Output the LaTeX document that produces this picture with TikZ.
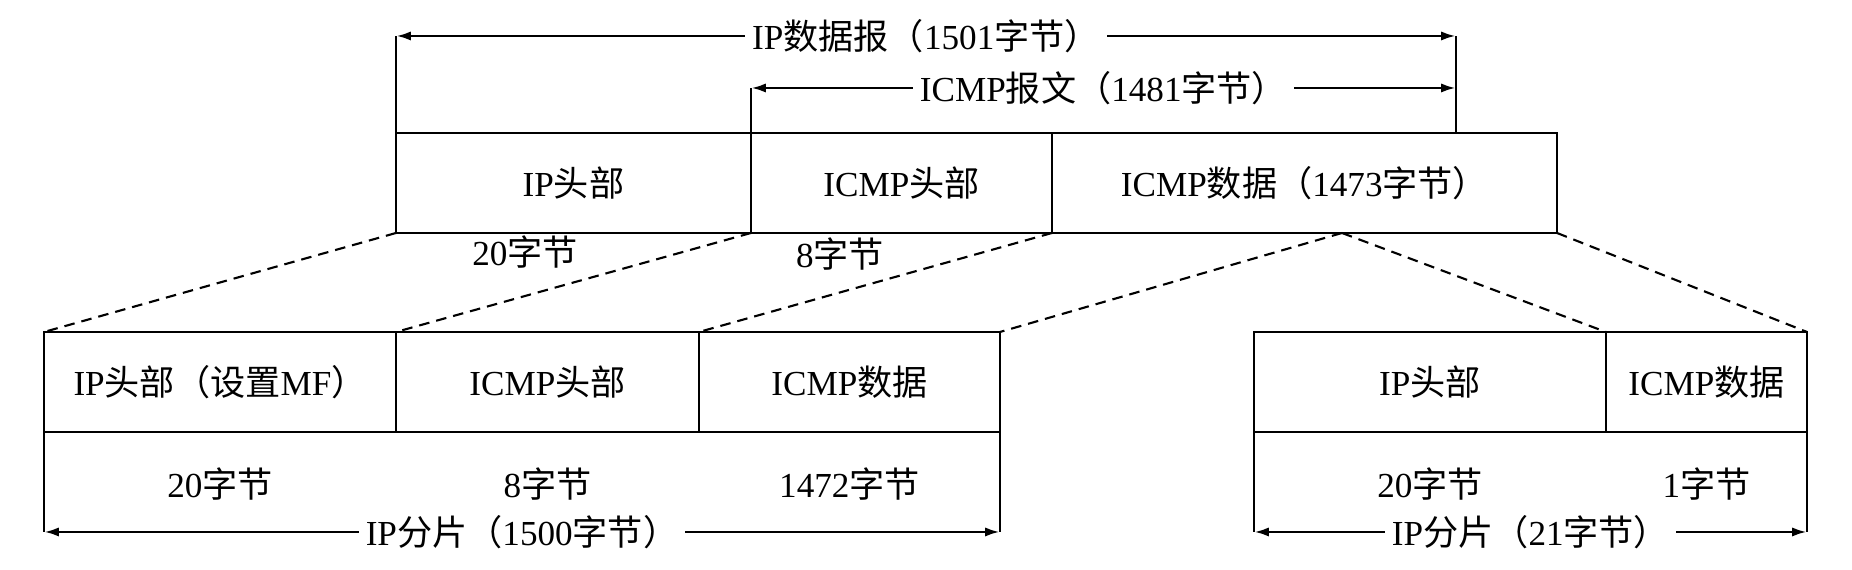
\documentclass[tikz,border=0pt]{standalone}
\usepackage{fontspec}
\setmainfont{Liberation Serif}
\newfontfamily\cjk{Noto Sans CJK SC}
\newcommand{\zh}[1]{{\cjk #1}}
\usetikzlibrary{arrows.meta,positioning,calc}

\begin{document}
\begin{tikzpicture}[thick, every node/.style={font=\fontsize{10}{12}\selectfont},
    cell/.style={draw, minimum height=1cm, inner sep=0pt, outer sep=0pt},
    span/.style={{Latex[length=4.2pt,width=2.6pt]}-{Latex[length=4.2pt,width=2.6pt]}},
    tag/.style={fill=white, inner sep=2pt},
    link/.style={line width=0.6pt, dash pattern=on 3pt off 2pt}]
\useasboundingbox (0,0) rectangle (18.52,5.70);
% IP datagram
\node[cell, minimum width=3.55cm, anchor=north west] (iph) at (3.96,4.37) {IP\zh{头部}};
\node[cell, minimum width=3.01cm, right=0pt of iph] (icmph) {ICMP\zh{头部}};
\node[cell, minimum width=5.05cm, right=0pt of icmph] (icmpd) {ICMP\zh{数据（}1473\zh{字节）}};
\node (iphsz) at (5.25,3.18) {20\zh{字节}};
\node (icmphsz) at (8.40,3.16) {8\zh{字节}};
\coordinate (dgl) at ($(iph.north west)+(0,0.97)$);
\coordinate (msgl) at ($(icmph.north west)+(0,0.45)$);
\coordinate (ends) at ($(icmpd.north east)+(-1.01,0)$);
\coordinate (dgr) at (dgl -| ends);
\coordinate (msgr) at (msgl -| ends);
\draw (iph.north west) -- (dgl);
\draw (icmph.north west) -- (msgl);
\draw (ends) -- (dgr);
\draw[span] (dgl) -- node[tag] {IP\zh{数据报（}1501\zh{字节）}} (dgr);
\draw[span] (msgl) -- node[tag] {ICMP\zh{报文（}1481\zh{字节）}} (msgr);
% first fragment
\node[cell, minimum width=3.52cm, anchor=north west] (fiph) at (0.44,2.38) {IP\zh{头部（设置}MF\zh{）}};
\node[cell, minimum width=3.03cm, right=0pt of fiph] (ficmph) {ICMP\zh{头部}};
\node[cell, minimum width=3.01cm, right=0pt of ficmph] (ficmpd) {ICMP\zh{数据}};
\node (fiphsz) at ($(fiph.south)+(0,-0.52)$) {20\zh{字节}};
\node (ficmphsz) at ($(ficmph.south)+(0,-0.52)$) {8\zh{字节}};
\node (ficmpdsz) at ($(ficmpd.south)+(0,-0.52)$) {1472\zh{字节}};
\coordinate (fl) at ($(fiph.south west)+(0,-1)$);
\coordinate (fr) at ($(ficmpd.south east)+(0,-1)$);
\draw (fiph.south west) -- (fl);
\draw (ficmpd.south east) -- (fr);
\draw[span] (fl) -- node[tag] {IP\zh{分片（}1500\zh{字节）}} (fr);
% second fragment
\node[cell, minimum width=3.52cm, anchor=north west] (siph) at (12.54,2.38) {IP\zh{头部}};
\node[cell, minimum width=2.01cm, right=0pt of siph] (sicmpd) {ICMP\zh{数据}};
\node (siphsz) at ($(siph.south)+(0,-0.52)$) {20\zh{字节}};
\node (sicmpdsz) at ($(sicmpd.south)+(0,-0.52)$) {1\zh{字节}};
\coordinate (sl) at ($(siph.south west)+(0,-1)$);
\coordinate (sr) at ($(sicmpd.south east)+(0,-1)$);
\draw (siph.south west) -- (sl);
\draw (sicmpd.south east) -- (sr);
\draw[span] (sl) -- node[tag] {IP\zh{分片（}21\zh{字节）}} (sr);
% dashed mapping
\coordinate (cut) at ($(icmpd.south west)+(2.90,0)$);
\draw[link] (iph.south west) -- (fiph.north west);
\draw[link] (icmph.south west) -- (ficmph.north west);
\draw[link] (icmpd.south west) -- (ficmpd.north west);
\draw[link] (cut) -- (ficmpd.north east);
\draw[link] (cut) -- (sicmpd.north west);
\draw[link] (icmpd.south east) -- (sicmpd.north east);
\end{tikzpicture}
\end{document}
